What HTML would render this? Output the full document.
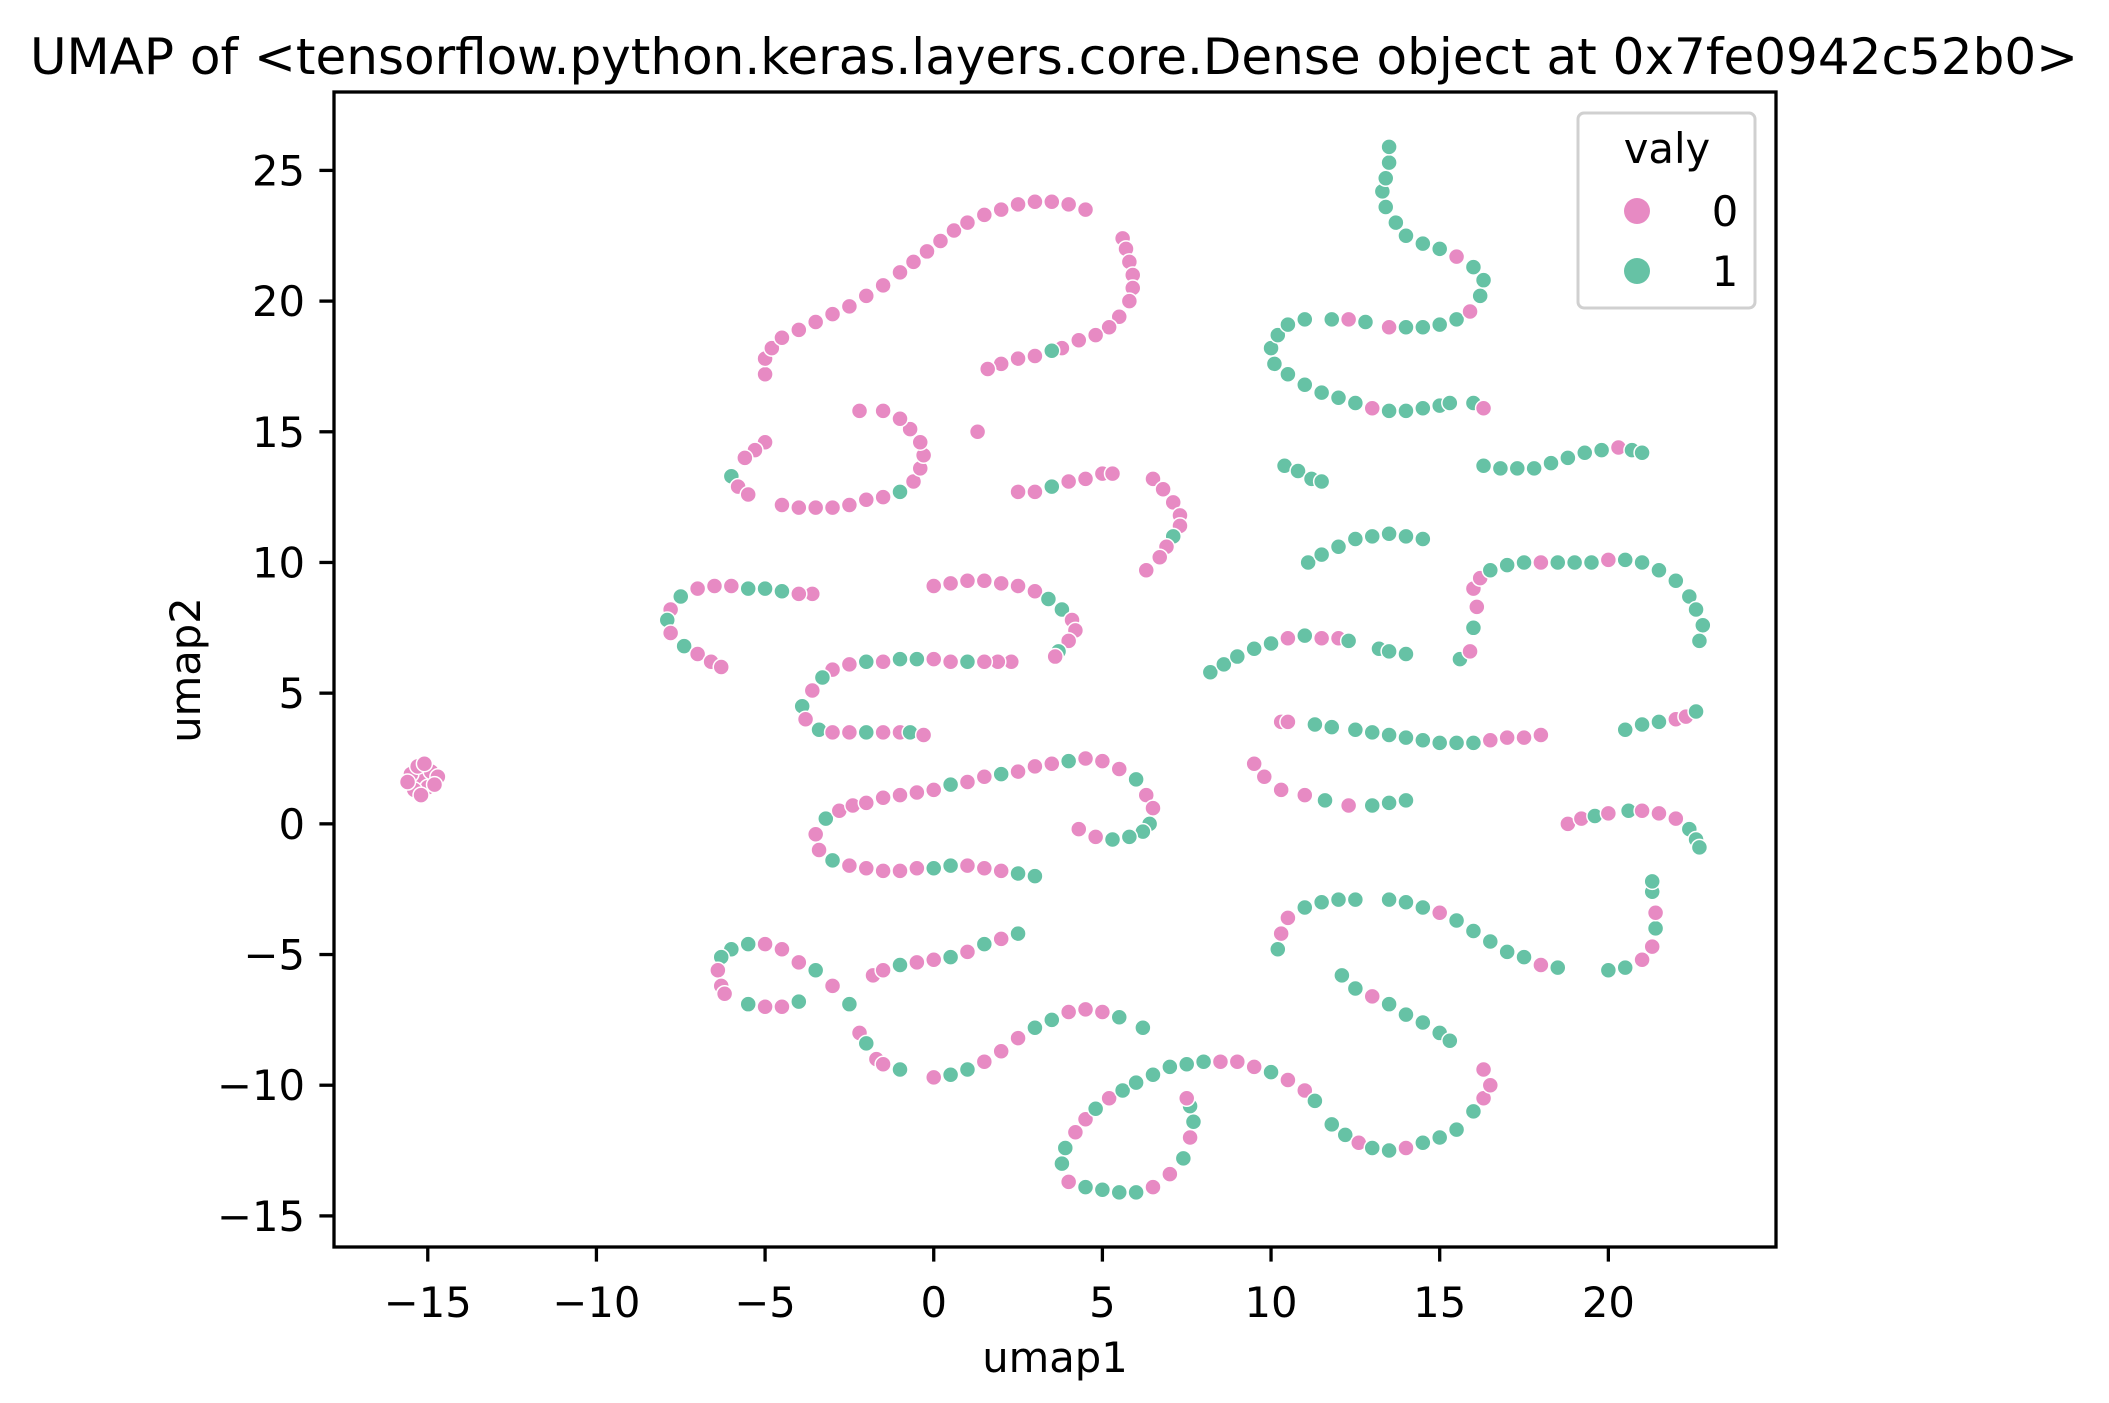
<!DOCTYPE html>
<html><head><meta charset="utf-8"><style>
body{margin:0;background:#fff}
svg{display:block;font-family:"DejaVu Sans","Liberation Sans",sans-serif}
</style></head><body>
<svg id="chart" width="2109" height="1403" viewBox="0 0 2109 1403">
<rect width="2109" height="1403" fill="#fff"/>
<text x="1054" y="74" font-size="50" text-anchor="middle">UMAP of &lt;tensorflow.python.keras.layers.core.Dense object at 0x7fe0942c52b0&gt;</text>
<g id="pts"></g>
<g id="axes"></g>
<text x="1055" y="1372" font-size="41.7" text-anchor="middle">umap1</text>
<text x="0" y="0" font-size="41.7" text-anchor="middle" transform="translate(200,670) rotate(-90)">umap2</text>
<g>
<rect x="1578" y="113" width="177" height="195" rx="6" fill="#fff" fill-opacity="0.8" stroke="#d0d0d0" stroke-width="3"/>
<text x="1667" y="163" font-size="41.7" text-anchor="middle">valy</text>
<circle cx="1637" cy="211" r="13" fill="#e78ac3"/>
<text x="1725" y="226" font-size="41.7" text-anchor="middle">0</text>
<circle cx="1637" cy="271" r="13" fill="#66c2a5"/>
<text x="1725" y="286" font-size="41.7" text-anchor="middle">1</text>
</g>
</svg>
<script>
const xTicks=[-15,-10,-5,0,5,10,15,20];
const yTicks=[-15,-10,-5,0,5,10,15,20,25];
// points: [x, y, class]
const points=[
[-5,17.2,0],[-5,17.8,0],[-4.8,18.2,0],[-4.5,18.6,0],[-4,18.9,0],[-3.5,19.2,0],[-3,19.5,0],[-2.5,19.8,0],[-2,20.2,0],[-1.5,20.6,0],[-1,21.1,0],[-0.6,21.5,0],[-0.2,21.9,0],[0.2,22.3,0],[0.6,22.7,0],[1,23,0],[1.5,23.3,0],[2,23.5,0],[2.5,23.7,0],[3,23.8,0],[3.5,23.8,0],[4,23.7,0],[4.5,23.5,0],[5.6,22.4,0],[5.7,22,0],[5.8,21.5,0],[5.9,21,0],[5.9,20.5,0],[5.8,20,0],[5.5,19.4,0],[5.2,19,0],[4.8,18.7,0],[4.3,18.5,0],[3.8,18.2,0],[3.5,18.1,1],[3,17.9,0],[2.5,17.8,0],[2,17.6,0],[1.6,17.4,0],[1.3,15,0],
[-5,14.6,0],[-5.3,14.3,0],[-5.6,14,0],[-6,13.3,1],[-5.8,12.9,0],[-5.5,12.6,0],[-4.5,12.2,0],[-4,12.1,0],[-3.5,12.1,0],[-3,12.1,0],[-2.5,12.2,0],[-2,12.4,0],[-1.5,12.5,0],[-1,12.7,1],[-0.6,13.1,0],[-0.4,13.6,0],[-0.3,14.1,0],[-0.4,14.6,0],[-0.7,15.1,0],[-1,15.5,0],[-1.5,15.8,0],[-2.2,15.8,0],
[2.5,12.7,0],[3,12.7,0],[3.5,12.9,1],[4,13.1,0],[4.5,13.2,0],[5,13.4,0],[5.3,13.4,0],[6.5,13.2,0],[6.8,12.8,0],[7.1,12.3,0],[7.3,11.8,0],[7.3,11.4,0],[7.1,11,1],[6.9,10.6,0],[6.7,10.2,0],[6.3,9.7,0],
[-3.6,8.8,0],[-4,8.8,0],[-4.5,8.9,1],[-5,9,1],[-5.5,9,1],[-6,9.1,0],[-6.5,9.1,0],[-7,9,0],[-7.5,8.7,1],[-7.8,8.2,0],[-7.9,7.8,1],[-7.8,7.3,0],[-7.4,6.8,1],[-7,6.5,0],[-6.6,6.2,0],[-6.3,6,0],
[0,9.1,0],[0.5,9.2,0],[1,9.3,0],[1.5,9.3,0],[2,9.2,0],[2.5,9.1,0],[3,8.9,0],[3.4,8.6,1],[3.8,8.2,1],[4.1,7.8,0],[4.2,7.4,0],[4,7,0],[3.7,6.6,1],[3.6,6.4,0],[2.3,6.2,0],[1.9,6.2,0],[1.5,6.2,0],[1,6.2,1],[0.5,6.2,0],[0,6.3,0],[-0.5,6.3,1],[-1,6.3,1],[-1.5,6.2,0],[-2,6.2,1],[-2.5,6.1,0],[-3,5.9,0],[-3.3,5.6,1],[-3.6,5.1,0],[-3.9,4.5,1],[-3.8,4,0],[-3.4,3.6,1],[-3,3.5,0],[-2.5,3.5,0],[-2,3.5,1],[-1.5,3.5,0],[-1,3.5,0],[-0.7,3.5,1],[-0.3,3.4,0],
[-15.2,1.7,0],[-15.5,1.9,0],[-14.9,2,0],[-15.3,2.2,0],[-15,1.4,0],[-15.4,1.3,0],[-15.6,1.6,0],[-14.7,1.8,0],[-15.2,1.1,0],[-15.1,2.3,0],[-14.8,1.5,0],
[-3.5,-0.4,0],[-3.2,0.2,1],[-2.8,0.5,0],[-2.4,0.7,0],[-2,0.8,0],[-1.5,1,0],[-1,1.1,0],[-0.5,1.2,0],[0,1.3,0],[0.5,1.5,1],[1,1.6,0],[1.5,1.8,0],[2,1.9,1],[2.5,2,0],[3,2.2,0],[3.5,2.3,0],[4,2.4,1],[4.5,2.5,0],[5,2.4,0],[5.5,2.1,0],[6,1.7,1],[6.3,1.1,0],[6.5,0.6,0],[6.4,0,1],[6.2,-0.3,1],[5.8,-0.5,1],[5.3,-0.6,1],[4.8,-0.5,0],[4.3,-0.2,0],
[-3.4,-1,0],[-3,-1.4,1],[-2.5,-1.6,0],[-2,-1.7,0],[-1.5,-1.8,0],[-1,-1.8,0],[-0.5,-1.7,0],[0,-1.7,1],[0.5,-1.6,1],[1,-1.6,0],[1.5,-1.7,0],[2,-1.8,0],[2.5,-1.9,1],[3,-2,1],
[-4.5,-4.8,0],[-5,-4.6,0],[-5.5,-4.6,1],[-6,-4.8,1],[-6.3,-5.1,1],[-6.4,-5.6,0],[-6.3,-6.2,0],[-6.2,-6.5,0],[-4,-5.3,0],[-3.5,-5.6,1],[-3,-6.2,0],[-2.5,-6.9,1],[-5.5,-6.9,1],[-5,-7,0],[-4.5,-7,0],[-4,-6.8,1],
[-1.8,-5.8,0],[-1.5,-5.6,0],[-1,-5.4,1],[-0.5,-5.3,0],[0,-5.2,0],[0.5,-5.1,1],[1,-4.9,0],[1.5,-4.6,1],[2,-4.4,0],[2.5,-4.2,1],
[-2.2,-8,0],[-2,-8.4,1],[-1.7,-9,0],[-1.5,-9.2,0],[-1,-9.4,1],[0,-9.7,0],[0.5,-9.6,1],[1,-9.4,1],[1.5,-9.1,0],[2,-8.7,0],[2.5,-8.2,0],[3,-7.8,1],[3.5,-7.5,1],[4,-7.2,0],[4.5,-7.1,0],[5,-7.2,0],[5.5,-7.4,1],[6.2,-7.8,1],
[4,-13.7,0],[3.8,-13,1],[3.9,-12.4,1],[4.2,-11.8,0],[4.5,-11.3,0],[4.8,-10.9,1],[5.2,-10.5,0],[5.6,-10.2,1],[6,-9.9,1],[6.5,-9.6,1],[7,-9.3,1],[7.5,-9.2,1],[8,-9.1,1],[8.5,-9.1,0],[9,-9.1,0],[9.5,-9.3,0],[10,-9.5,1],[10.5,-9.8,0],[11,-10.2,0],[11.3,-10.6,1],[11.8,-11.5,1],[12.2,-11.9,1],[12.6,-12.2,0],[13,-12.4,1],[13.5,-12.5,1],[14,-12.4,0],[14.5,-12.2,1],[15,-12,1],[15.5,-11.7,1],[16,-11,1],[16.3,-10.5,0],[16.5,-10,0],[16.3,-9.4,0],
[4.5,-13.9,1],[5,-14,1],[5.5,-14.1,1],[6,-14.1,1],[6.5,-13.9,0],[7,-13.4,0],[7.4,-12.8,1],[7.6,-12,0],[7.7,-11.4,1],[7.6,-10.8,1],[7.5,-10.5,0],
[12.1,-5.8,1],[12.5,-6.3,1],[13,-6.6,0],[13.5,-6.9,1],[14,-7.3,1],[14.5,-7.6,1],[15,-8,1],[15.3,-8.3,1],
[10.2,-4.8,1],[10.3,-4.2,0],[10.5,-3.6,0],[11,-3.2,1],[11.5,-3,1],[12,-2.9,1],[12.5,-2.9,1],[13.5,-2.9,1],[14,-3,1],[14.5,-3.2,1],[15,-3.4,0],[15.5,-3.7,1],[16,-4.1,1],[16.5,-4.5,1],[17,-4.9,1],[17.5,-5.1,1],[18,-5.4,0],[18.5,-5.5,1],[20,-5.6,1],[20.5,-5.5,1],[21,-5.2,0],[21.3,-4.7,0],[21.4,-4,1],[21.4,-3.4,0],[21.3,-2.6,1],[21.3,-2.2,1],
[18.8,0,0],[19.2,0.2,0],[19.6,0.3,1],[20,0.4,0],[20.6,0.5,1],[21,0.5,0],[21.5,0.4,0],[22,0.2,0],[22.4,-0.2,1],[22.6,-0.6,1],[22.7,-0.9,1],
[9.5,2.3,0],[9.8,1.8,0],[10.3,1.3,0],[11,1.1,0],[11.6,0.9,1],[12.3,0.7,0],[13,0.7,1],[13.5,0.8,1],[14,0.9,1],
[10.3,3.9,0],[10.5,3.9,0],[11.3,3.8,1],[11.8,3.7,1],[12.5,3.6,1],[13,3.5,1],[13.5,3.4,1],[14,3.3,1],[14.5,3.2,1],[15,3.1,1],[15.5,3.1,1],[16,3.1,1],[16.5,3.2,0],[17,3.3,0],[17.5,3.3,0],[18,3.4,0],
[20.5,3.6,1],[21,3.8,1],[21.5,3.9,1],[22,4,0],[22.3,4.1,0],[22.6,4.3,1],
[8.2,5.8,1],[8.6,6.1,1],[9,6.4,1],[9.5,6.7,1],[10,6.9,1],[10.5,7.1,0],[11,7.2,1],[11.5,7.1,0],[12,7.1,0],[12.3,7,1],[13.2,6.7,1],[13.5,6.6,1],[14,6.5,1],
[11.1,10,1],[11.5,10.3,1],[12,10.6,1],[12.5,10.9,1],[13,11,1],[13.5,11.1,1],[14,11,1],[14.5,10.9,1],
[15.6,6.3,1],[15.9,6.6,0],[16,7.5,1],[16.1,8.3,0],[16,9,0],[16.2,9.4,0],[16.5,9.7,1],[17,9.9,1],[17.5,10,1],[18,10,0],[18.5,10,1],[19,10,1],[19.5,10,1],[20,10.1,0],[20.5,10.1,1],[21,10,1],[21.5,9.7,1],[22,9.3,1],[22.4,8.7,1],[22.6,8.2,1],[22.8,7.6,1],[22.7,7,1],
[10.4,13.7,1],[10.8,13.5,1],[11.2,13.2,1],[11.5,13.1,1],
[16.3,13.7,1],[16.8,13.6,1],[17.3,13.6,1],[17.8,13.6,1],[18.3,13.8,1],[18.8,14,1],[19.3,14.2,1],[19.8,14.3,1],[20.3,14.4,0],[20.7,14.3,1],[21,14.2,1],
[10,18.2,1],[10.2,18.7,1],[10.5,19.1,1],[11,19.3,1],[10.1,17.6,1],[10.5,17.2,1],[11,16.8,1],[11.5,16.5,1],[12,16.3,1],[12.5,16.1,1],[13,15.9,0],[13.5,15.8,1],[14,15.8,1],[14.5,15.9,1],[15,16,1],[15.3,16.1,1],[16,16.1,1],[16.3,15.9,0],
[11.8,19.3,1],[12.3,19.3,0],[12.8,19.2,1],[13.5,19,0],[14,19,1],[14.5,19,1],[15,19.1,1],[15.5,19.3,1],[15.9,19.6,0],[16.2,20.2,1],[16.3,20.8,1],[16,21.3,1],[15.5,21.7,0],[15,22,1],[14.5,22.2,1],[14,22.5,1],[13.7,23,1],[13.4,23.6,1],[13.3,24.2,1],[13.4,24.7,1],[13.5,25.3,1],[13.5,25.9,1]
];
const classColors=['#e78ac3','#66c2a5'];
const X0=334,X1=1776,Y0=92,Y1=1247;
const xmin=-17.78,xmax=24.97,ymin=-16.19,ymax=28.0;
function sx(v){return X0+(v-xmin)/(xmax-xmin)*(X1-X0);}
function sy(v){return Y1-(v-ymin)/(ymax-ymin)*(Y1-Y0);}
const NS='http://www.w3.org/2000/svg';
const pg=document.getElementById('pts');
points.forEach(p=>{
  const c=document.createElementNS(NS,'circle');
  c.setAttribute('cx',sx(p[0]));c.setAttribute('cy',sy(p[1]));c.setAttribute('r',8);
  c.setAttribute('fill',classColors[p[2]]);c.setAttribute('stroke','#fff');c.setAttribute('stroke-width',1.5);
  
  
  pg.appendChild(c);
});
const ag=document.getElementById('axes');
const fr=document.createElementNS(NS,'rect');
fr.setAttribute('x',X0);fr.setAttribute('y',Y0);fr.setAttribute('width',X1-X0);fr.setAttribute('height',Y1-Y0);
fr.setAttribute('fill','none');fr.setAttribute('stroke','#000');fr.setAttribute('stroke-width',3.3);


ag.appendChild(fr);
xTicks.forEach(t=>{
  const x=sx(t);
  const l=document.createElementNS(NS,'line');
  l.setAttribute('x1',x);l.setAttribute('x2',x);l.setAttribute('y1',Y1);l.setAttribute('y2',Y1+14.6);l.setAttribute('stroke','#000');l.setAttribute('stroke-width',3.3);
  
  
  ag.appendChild(l);
  const tx=document.createElementNS(NS,'text');
  tx.setAttribute('x',x);tx.setAttribute('y',Y1+70);tx.setAttribute('font-size','41.7');tx.setAttribute('text-anchor','middle');
  tx.textContent=t<0?'\u2212'+Math.abs(t):String(t);
  
  
  ag.appendChild(tx);
});
yTicks.forEach(t=>{
  const y=sy(t);
  const l=document.createElementNS(NS,'line');
  l.setAttribute('x1',X0-14.6);l.setAttribute('x2',X0);l.setAttribute('y1',y);l.setAttribute('y2',y);l.setAttribute('stroke','#000');l.setAttribute('stroke-width',3.3);
  
  
  ag.appendChild(l);
  const tx=document.createElementNS(NS,'text');
  tx.setAttribute('x',X0-29);tx.setAttribute('y',y+15);tx.setAttribute('font-size','41.7');tx.setAttribute('text-anchor','end');
  tx.textContent=t<0?'\u2212'+Math.abs(t):String(t);
  
  
  ag.appendChild(tx);
});
</script>
</body></html>
